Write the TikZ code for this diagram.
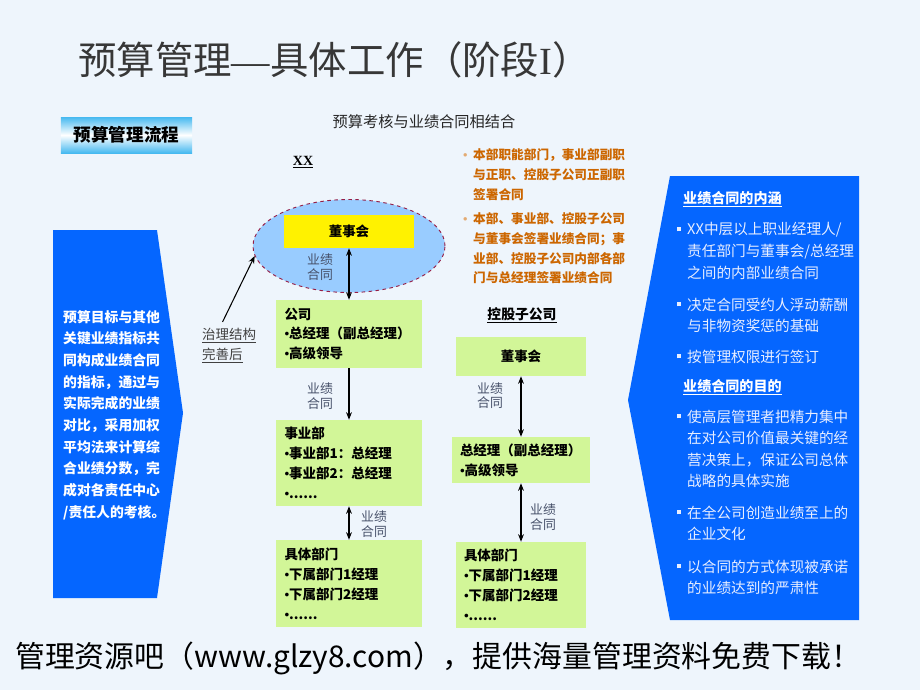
\documentclass[tikz,border=0pt]{standalone}
\usepackage{fontspec}
\setmainfont{Noto Sans CJK SC}
\newfontfamily\xxfont{Liberation Serif}
\usepackage{xcolor}
\usetikzlibrary{positioning, arrows.meta, shapes.geometric, calc}

\definecolor{pagebg}{RGB}{238,245,252}
\definecolor{panelblue}{RGB}{5,102,255}
\definecolor{limegreen}{RGB}{210,246,152}
\definecolor{skyblue}{RGB}{153,204,255}
\definecolor{dashred}{RGB}{150,30,70}
\definecolor{notebrown}{RGB}{204,102,0}
\definecolor{dealgray}{RGB}{70,80,105}
\definecolor{paletext}{RGB}{232,238,255}
\definecolor{titlegray}{RGB}{55,55,55}
\definecolor{tagcyan}{RGB}{70,185,240}

\newcommand{\sqbul}{\llap{\rule[0.25em]{0.27em}{0.27em}\hspace{0.4em}}}
\newcommand{\notebul}{\llap{{\color{notebrown!55}\xxfont •}\hspace{0.45em}}}
\newcommand{\gbul}{{\xxfont •}}

\tikzstyle{greenbox} = [rectangle, fill=limegreen, inner xsep=0.24cm, inner ysep=0pt, align=left, font=\fontsize{11.5}{17}\selectfont\bfseries]
\tikzstyle{deal} = [align=center, inner sep=0pt, font=\fontsize{11}{12.5}\selectfont, text=dealgray]
\tikzstyle{dealarrow} = [<->, line width=0.9pt]
\tikzstyle{paneltext} = [anchor=north west, inner sep=0pt, align=left, text=paletext, font=\fontsize{12.5}{18.4}\selectfont]
\tikzstyle{panelhead} = [anchor=north west, inner sep=0pt, align=left, text=white, font=\fontsize{12}{16}\selectfont\bfseries]
\tikzstyle{notetext} = [anchor=north west, inner sep=0pt, align=left, text=notebrown, font=\fontsize{10.8}{16.7}\selectfont\bfseries]

\begin{document}
\begin{tikzpicture}[>={Stealth[length=6.5pt,width=5pt]}, x=0.03cm, y=-0.03cm]

	% page
	\fill[pagebg] (0,0) rectangle (920,690);
	\useasboundingbox (0,0) rectangle (920,690);

	% title and footer
	\node[anchor=west, inner sep=0pt, text=titlegray, font=\fontsize{32.8}{35}\selectfont] (title) at (78,60) {预算管理{\xxfont —}具体工作（阶段{\xxfont I}）};
	\node[anchor=west, inner sep=0pt, font=\fontsize{25.5}{28}\selectfont] (footer) at (15,658) {管理资源吧（www.glzy8.com），提供海量管理资料免费下载！};

	% tag and heading
	\node[rectangle, minimum width=3.93cm, minimum height=1.08cm, top color=tagcyan, bottom color=tagcyan, middle color=white, font=\fontsize{15}{17}\selectfont\bfseries] (flowtag) at (126.5,135) {预算管理流程};
	\node[text=black!85, font=\fontsize{13}{15}\selectfont] (combo) at (424,122) {预算考核与业绩合同相结合};

	% side panels
	\fill[panelblue] (53,230) -- (157,230) -- (183,413) -- (157,598) -- (53,598) -- cycle;
	\fill[panelblue] (670,176) -- (859,176) -- (859,620) -- (670,620) -- (628,400) -- cycle;

	\node[anchor=north west, inner sep=0pt, align=left, text=white, font=\fontsize{11.8}{18.5}\selectfont\bfseries] (goaltext) at (63,310) {预算目标与其他\\关键业绩指标共\\同构成业绩合同\\的指标，通过与\\实际完成的业绩\\对比，采用加权\\平均法来计算综\\合业绩分数，完\\成对各责任中心\\/责任人的考核。};

	\node[panelhead] (head1) at (683,191) {\underline{业绩合同的内涵}};
	\node[paneltext] (item1) at (687,222.4) {\sqbul XX中层以上职业经理人/\\责任部门与董事会/总经理\\之间的内部业绩合同};
	\node[paneltext] (item2) at (687,297.4) {\sqbul 决定合同受约人浮动薪酬\\与非物资奖惩的基础};
	\node[paneltext] (item3) at (687,349.4) {\sqbul 按管理权限进行签订};
	\node[panelhead] (head2) at (683,379) {\underline{业绩合同的目的}};
	\node[paneltext] (item4) at (687,409.4) {\sqbul 使高层管理者把精力集中\\在对公司价值最关键的经\\营决策上，保证公司总体\\战略的具体实施};
	\node[paneltext] (item5) at (687,505.4) {\sqbul 在全公司创造业绩至上的\\企业文化};
	\node[paneltext] (item6) at (687,559.4) {\sqbul 以合同的方式体现被承诺\\的业绩达到的严肃性};

	% notes
	\node[notetext] (note1) at (473,148.7) {\notebul 本部职能部门，事业部副职\\与正职、控股子公司正副职\\签署合同};
	\node[notetext] (note2) at (473,212.7) {\notebul 本部、事业部、控股子公司\\与董事会签署业绩合同；事\\业部、控股子公司内部各部\\门与总经理签署业绩合同};

	% XX group
	\node[font=\fontsize{12}{14}\selectfont\bfseries\xxfont] (xx) at (303,162) {\underline{XX}};
	\node[ellipse, draw=dashred, dashed, line width=0.8pt, fill=skyblue, minimum width=5.76cm, minimum height=2.79cm, inner sep=0pt] (outer) at (349,246) {};
	\node[rectangle, fill=yellow, minimum width=3.9cm, minimum height=0.99cm, font=\fontsize{11.5}{13}\selectfont\bfseries] (board) at (349,231.5) {董事会};
	\node[greenbox, text width=3.87cm, minimum height=2.04cm] (corp) at (349,334) {公司\\\gbul 总经理（副总经理）\\\gbul 高级领导};
	\node[greenbox, text width=3.87cm, minimum height=2.58cm] (bu) at (349,463) {事业部\\\gbul 事业部1：总经理\\\gbul 事业部2：总经理\\\gbul ......};
	\node[greenbox, text width=3.87cm, minimum height=2.61cm] (dept) at (349,583.5) {具体部门\\\gbul 下属部门1经理\\\gbul 下属部门2经理\\\gbul ......};

	% governance note
	\node[anchor=north west, inner sep=0pt, align=left, text=black!75, font=\fontsize{11.5}{17}\selectfont] (govnote) at (202,328) {\underline{治理结构}\\\underline{完善后}};

	% subsidiary group
	\node[font=\fontsize{11.8}{14}\selectfont\bfseries] (subtitle) at (522,315) {\underline{控股子公司}};
	\node[greenbox, align=center, text width=3.42cm, minimum height=1.17cm] (subboard) at (521,356.5) {董事会};
	\node[greenbox, text width=3.66cm, minimum height=1.38cm] (subgm) at (521,460) {总经理（副总经理）\\\gbul 高级领导};
	\node[greenbox, text width=3.42cm, minimum height=2.58cm] (subdept) at (521,585) {具体部门\\\gbul 下属部门1经理\\\gbul 下属部门2经理\\\gbul ......};

	% connections
	\draw [dealarrow] (board.south) -- (corp.north) node[deal, midway, xshift=-0.87cm, yshift=0.21cm] (deal1) {业绩\\合同};
	\draw [->, line width=0.9pt] (corp.south) -- (bu.north) node[deal, midway, xshift=-0.87cm, yshift=-0.06cm] (deal2) {业绩\\合同};
	\draw [dealarrow] (bu.south) -- (dept.north) node[deal, midway, xshift=0.75cm, yshift=-0.03cm] (deal3) {业绩\\合同};
	\draw [dealarrow] (subboard.south) -- (subgm.north) node[deal, midway, xshift=-0.93cm, yshift=0.33cm] (deal4) {业绩\\合同};
	\draw [dealarrow] (subgm.south) -- (subdept.north) node[deal, midway, xshift=0.66cm, yshift=-0.14cm] (deal5) {业绩\\合同};
	\draw [->, line width=0.9pt] ([xshift=-0.2cm, yshift=0.18cm]govnote.north) -- (outer.186);

\end{tikzpicture}
\end{document}
